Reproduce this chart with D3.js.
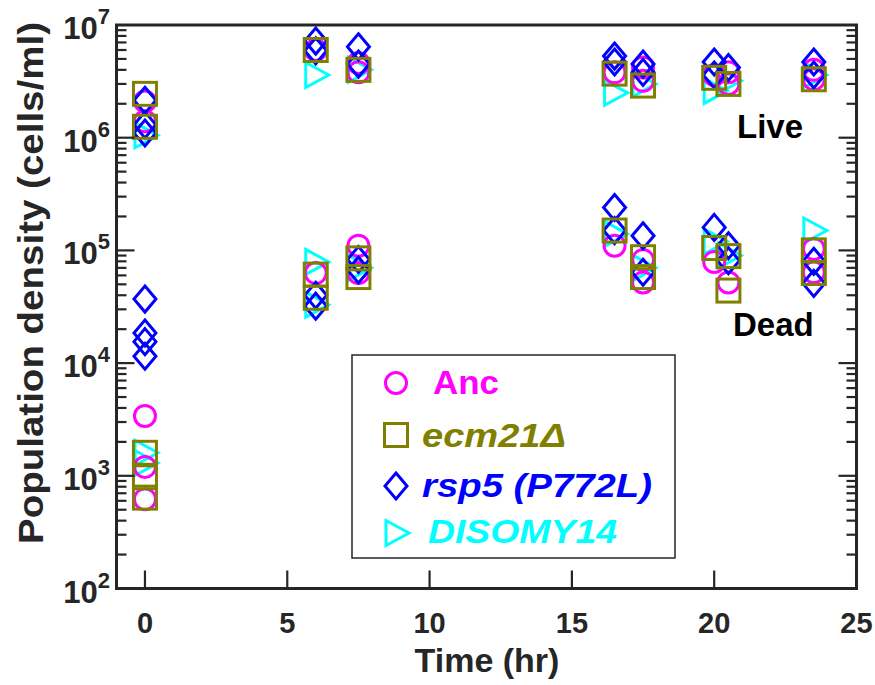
<!DOCTYPE html>
<html><head><meta charset="utf-8">
<script src="https://cdn.jsdelivr.net/npm/d3@7"></script>
<style>body{margin:0;background:#fff}svg{display:block}</style>
</head><body>
<svg id="c" width="875" height="685"></svg>
<script>
// ---- data ----
const times = [0, 6, 7.5, 16.5, 17.5, 20, 20.5, 23.5];
const strains = ["Anc", "ecm21Δ", "rsp5 (P772L)", "DISOMY14"];
const colors = ["#ff00ff", "#808000", "#0000ff", "#00ffff"];
// replicate values per time point (cells/ml)
const ancLive = [[2.1e6,1.4e6],[6.0e6],[4.6e6,3.8e6],[3.8e6],[4.2e6,3.2e6],[3.6e6],[3.8e6,3.0e6],[4.0e6,3.3e6]];
const ancDead = [[3.4e3,1.2e3,6.2e2],[6.3e4],[1.1e5,6.3e4],[1.1e5],[8.2e4,5.2e4],[7.9e4],[5.2e4],[1.03e5,6.4e4]];
const ecmLive = [[2.45e6,1.25e6],[6.0e6],[4.0e6],[3.7e6],[2.9e6],[3.4e6],[3.0e6],[3.3e6]];
const ecmDead = [[1.6e3,9.7e2,6.4e2],[6.1e4,3.8e4],[8.5e4,5.8e4],[1.5e5],[8.7e4,5.8e4],[1.05e5],[8.9e4,4.4e4],[1.0e5,6.3e4]];
const rspLive = [[2.15e6,1.3e6,1.1e6],[7.2e6,5.9e6],[6.4e6,4.5e6],[5.3e6,4.7e6],[4.5e6,3.8e6],[4.7e6,3.6e6],[4.2e6],[4.7e6,3.6e6]];
const rspDead = [[3.7e4,1.85e4,1.55e4,1.15e4],[4.0e4,3.2e4],[8.3e4,6.7e4],[2.4e5,1.5e5],[1.35e5,6.4e4],[1.6e5],[1.1e5,8.1e4],[8.0e4,5.1e4]];
const disLive = [[1.05e6],[3.6e6],[4.0e6],[2.5e6],[3.0e6],[2.6e6],[3.2e6],[3.6e6]];
const disDead = [[1.6e3,1.3e3],[7.9e4,3.3e4],[7.0e4],[1.4e5],[7.0e4],[1.2e5],[9.0e4],[1.5e5]];
const xTicks = [0, 5, 10, 15, 20, 25];
const yTicks = [1e2, 1e3, 1e4, 1e5, 1e6, 1e7];

// ---- layout ----
const svg = d3.select("#c");
const L = 116.5, R = 856.5, T = 25, B = 588.5;
const x = d3.scaleLinear().domain([-1, 25]).range([L, R]);
const y = d3.scaleLog().domain([1e2, 1e7]).range([B, T]);
const FONT = "'Liberation Sans', Arial, Helvetica, sans-serif";
const axisCol = "#262626";

// marker shapes
function marker(g, kind, cx, cy, col) {
  const sw = 3;
  if (kind === 0) g.append("circle").attr("cx", cx).attr("cy", cy).attr("r", 10.5)
    .attr("fill", "none").attr("stroke", col).attr("stroke-width", sw);
  else if (kind === 1) g.append("rect").attr("x", cx - 11.5).attr("y", cy - 11.5).attr("width", 23).attr("height", 23)
    .attr("fill", "none").attr("stroke", col).attr("stroke-width", sw);
  else if (kind === 2) g.append("path").attr("d", `M${cx},${cy-13}L${cx+11},${cy}L${cx},${cy+13}L${cx-11},${cy}Z`)
    .attr("fill", "none").attr("stroke", col).attr("stroke-width", sw);
  else g.append("path").attr("d", `M${cx-10},${cy-12.5}L${cx+13},${cy}L${cx-10},${cy+12.5}Z`)
    .attr("fill", "none").attr("stroke", col).attr("stroke-width", sw).attr("stroke-linejoin", "miter");
}

// ---- data points ----
const series = [
  {k: 3, live: disLive, dead: disDead},
  {k: 0, live: ancLive, dead: ancDead},
  {k: 2, live: rspLive, dead: rspDead},
  {k: 1, live: ecmLive, dead: ecmDead}
];
const gp = svg.append("g");
series.forEach(s => {
  [s.live, s.dead].forEach(arr => {
    arr.forEach((reps, i) => reps.forEach(v => marker(gp, s.k, x(times[i]), y(v), colors[s.k])));
  });
});

// ---- axes box ----
const ga = svg.append("g").attr("stroke", axisCol).attr("fill", "none");
ga.append("rect").attr("x", L).attr("y", T).attr("width", R - L).attr("height", B - T).attr("stroke-width", 3);
// x ticks (bottom only)
xTicks.forEach(t => ga.append("line").attr("x1", x(t)).attr("x2", x(t)).attr("y1", B).attr("y2", B - 18).attr("stroke-width", 2.2));
// y ticks major + minor, left and right
for (let e = 2; e < 7; e++) {
  for (let m = 1; m <= 9; m++) {
    const v = m * Math.pow(10, e);
    const len = m === 1 ? 18 : 10;
    const yy = y(v);
    ga.append("line").attr("x1", L).attr("x2", L + len).attr("y1", yy).attr("y2", yy).attr("stroke-width", 2.2);
    ga.append("line").attr("x1", R).attr("x2", R - len).attr("y1", yy).attr("y2", yy).attr("stroke-width", 2.2);
  }
}

// ---- tick labels ----
const gt = svg.append("g").attr("font-family", FONT).attr("font-weight", "bold").attr("fill", "#262626");
xTicks.forEach(t => gt.append("text").attr("x", x(t)).attr("y", 633).attr("text-anchor", "middle")
  .attr("font-size", 29).text(t));
yTicks.forEach(v => {
  const tx = gt.append("text").attr("x", 110).attr("y", y(v) + 14).attr("text-anchor", "end").attr("font-size", 31);
  tx.append("tspan").text("10");
  tx.append("tspan").attr("font-size", 22).attr("dy", -15).text(Math.round(Math.log10(v)));
});

// axis labels
gt.append("text").attr("x", 487).attr("y", 672).attr("text-anchor", "middle").attr("font-size", 34).text("Time (hr)");
gt.append("text").attr("transform", "translate(43,283) rotate(-90)").attr("text-anchor", "middle")
  .attr("font-size", 35).attr("textLength", 522).attr("lengthAdjust", "spacingAndGlyphs")
  .text("Population density (cells/ml)");

// Live / Dead annotations
gt.append("text").attr("x", 737).attr("y", 138).attr("font-size", 33).attr("fill", "#000").text("Live");
gt.append("text").attr("x", 733).attr("y", 336).attr("font-size", 33).attr("fill", "#000").text("Dead");

// ---- legend ----
const lg = svg.append("g");
lg.append("rect").attr("x", 352).attr("y", 355).attr("width", 323).attr("height", 203)
  .attr("fill", "#fff").attr("stroke", "#262626").attr("stroke-width", 1.5);
const legY = [383, 435, 486, 533];
const legBase = [394, 447, 497, 543];
const legX = [433, 422, 422, 428];
const legW = [66, 144, 230, 189];
strains.forEach((s, i) => {
  marker(lg, i, 396, legY[i], colors[i]);
  lg.append("text").attr("x", legX[i]).attr("y", legBase[i]).attr("font-family", FONT).attr("font-weight", "bold")
    .attr("font-style", i === 0 ? "normal" : "italic").attr("font-size", 34).attr("fill", colors[i])
    .attr("textLength", legW[i]).attr("lengthAdjust", "spacingAndGlyphs").text(s);
});
</script>
</body></html>
